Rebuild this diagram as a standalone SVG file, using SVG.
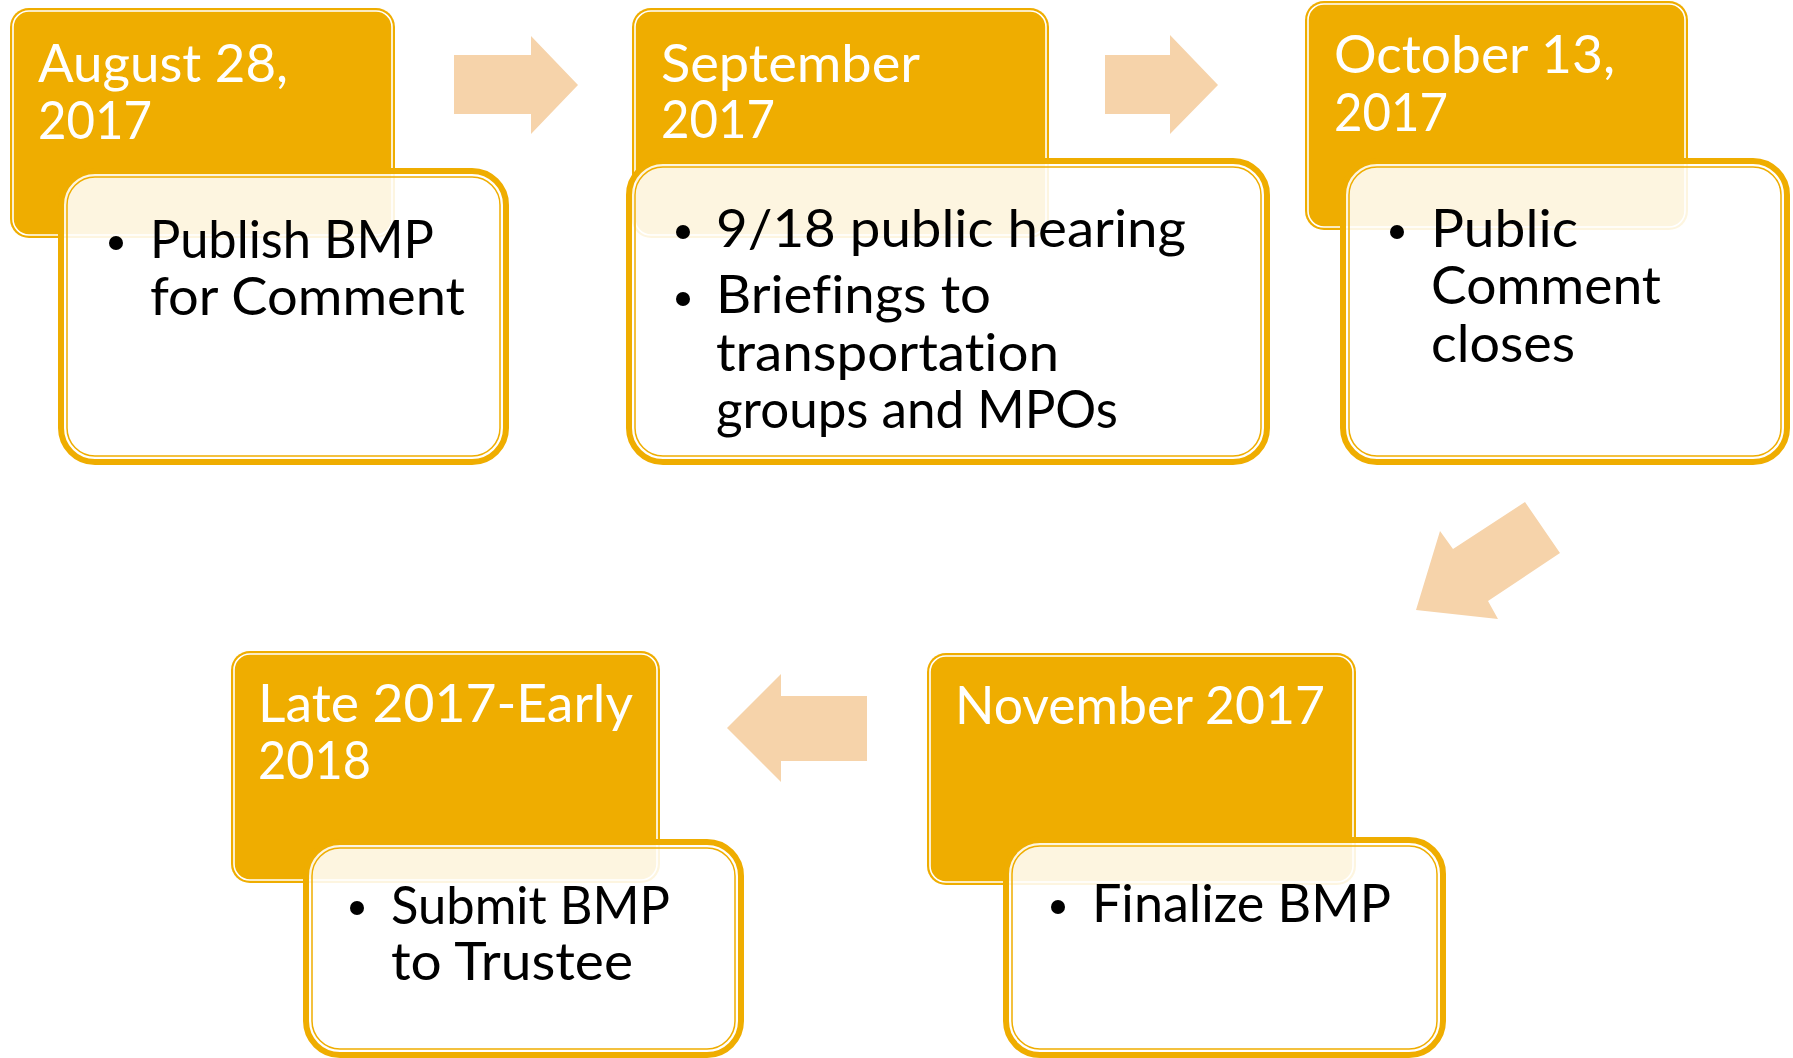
<svg xmlns="http://www.w3.org/2000/svg" width="1793" height="1058" viewBox="0 0 1793 1058">
<style>
.hdr{fill:#EFAD00}
.hdrline{fill:none;stroke:#FFFFFF;stroke-width:1.6}
.det{fill:#FFFFFF;fill-opacity:0.88;stroke:#EFAD00;stroke-width:6}
.detline{fill:none;stroke:#EFAD00;stroke-width:1.5}
.arrow{fill:#F6D3AA}
.ht{font-family:Lato,"Open Sans","DejaVu Sans",sans-serif;font-size:52px;fill:#FFFFFF;font-variant-ligatures:none;font-feature-settings:"liga" 0,"dlig" 0,"clig" 0}
.dt{font-family:Lato,"Open Sans","DejaVu Sans",sans-serif;font-size:52px;fill:#000000;font-variant-ligatures:none;font-feature-settings:"liga" 0,"dlig" 0,"clig" 0}
.bul{fill:#000000}
</style>
<rect width="1793" height="1058" fill="#FFFFFF"/>
<g id="connectors">
<polygon class="arrow" points="454,55 531,55 531,36 578,85 531,134 531,114 454,114"/>
<polygon class="arrow" points="1105,55 1170,55 1170,35 1218,85 1170,134 1170,114 1105,114"/>
<polygon class="arrow" points="1525,502 1560,553 1488,601 1498,619 1416,610 1440,531 1453,549"/>
<polygon class="arrow" points="867,696 781,696 781,674 727,728 781,782 781,761 867,761"/>
</g>
<g id="node-aug">
<rect class="hdr" x="10" y="8" width="385" height="230" rx="19"/>
<rect class="hdrline" x="13" y="11" width="379" height="224" rx="16"/>
<text class="ht" x="38" y="82" textLength="250" lengthAdjust="spacingAndGlyphs">August 28,</text>
<text class="ht" x="38" y="139" textLength="114" lengthAdjust="spacingAndGlyphs">2017</text>
<rect class="det" x="61" y="171" width="445" height="291" rx="34"/>
<rect class="detline" x="67" y="177" width="433" height="279" rx="28"/>
<circle class="bul" cx="116" cy="243" r="7"/>
<text class="dt" x="150" y="258" textLength="284" lengthAdjust="spacingAndGlyphs">Publish BMP</text>
<text class="dt" x="150" y="315" textLength="315" lengthAdjust="spacingAndGlyphs">for Comment</text>
</g>
<g id="node-sep">
<rect class="hdr" x="632" y="8" width="417" height="230" rx="19"/>
<rect class="hdrline" x="635" y="11" width="411" height="224" rx="16"/>
<text class="ht" x="661" y="82" textLength="259" lengthAdjust="spacingAndGlyphs">September</text>
<text class="ht" x="661" y="138" textLength="114" lengthAdjust="spacingAndGlyphs">2017</text>
<rect class="det" x="629" y="161" width="638" height="301" rx="34"/>
<rect class="detline" x="635" y="167" width="626" height="289" rx="28"/>
<circle class="bul" cx="683" cy="232" r="7"/>
<text class="dt" x="716" y="247" textLength="470" lengthAdjust="spacingAndGlyphs">9/18 public hearing</text>
<circle class="bul" cx="683" cy="299" r="7"/>
<text class="dt" x="716" y="313" textLength="275" lengthAdjust="spacingAndGlyphs">Briefings to</text>
<text class="dt" x="716" y="371" textLength="343" lengthAdjust="spacingAndGlyphs">transportation</text>
<text class="dt" x="716" y="428" textLength="402" lengthAdjust="spacingAndGlyphs">groups and MPOs</text>
</g>
<g id="node-oct">
<rect class="hdr" x="1305" y="1" width="383" height="229" rx="19"/>
<rect class="hdrline" x="1308" y="4" width="377" height="223" rx="16"/>
<text class="ht" x="1334" y="73" textLength="281" lengthAdjust="spacingAndGlyphs">October 13,</text>
<text class="ht" x="1334" y="131" textLength="114" lengthAdjust="spacingAndGlyphs">2017</text>
<rect class="det" x="1343" y="161" width="444" height="301" rx="34"/>
<rect class="detline" x="1349" y="167" width="432" height="289" rx="28"/>
<circle class="bul" cx="1397" cy="232" r="7"/>
<text class="dt" x="1431" y="247" textLength="147" lengthAdjust="spacingAndGlyphs">Public</text>
<text class="dt" x="1431" y="304" textLength="230" lengthAdjust="spacingAndGlyphs">Comment</text>
<text class="dt" x="1431" y="362" textLength="144" lengthAdjust="spacingAndGlyphs">closes</text>
</g>
<g id="node-nov">
<rect class="hdr" x="927" y="653" width="429" height="232" rx="19"/>
<rect class="hdrline" x="930" y="656" width="423" height="226" rx="16"/>
<text class="ht" x="955" y="724" textLength="370" lengthAdjust="spacingAndGlyphs">November 2017</text>
<rect class="det" x="1006" y="840" width="437" height="215" rx="34"/>
<rect class="detline" x="1012" y="846" width="425" height="203" rx="28"/>
<circle class="bul" cx="1058" cy="907" r="7"/>
<text class="dt" x="1092" y="922" textLength="299" lengthAdjust="spacingAndGlyphs">Finalize BMP</text>
</g>
<g id="node-late">
<rect class="hdr" x="231" y="651" width="429" height="232" rx="19"/>
<rect class="hdrline" x="234" y="654" width="423" height="226" rx="16"/>
<text class="ht" x="258" y="722" textLength="375" lengthAdjust="spacingAndGlyphs">Late 2017-Early</text>
<text class="ht" x="258" y="779" textLength="113" lengthAdjust="spacingAndGlyphs">2018</text>
<rect class="det" x="306" y="842" width="435" height="213" rx="34"/>
<rect class="detline" x="312" y="848" width="423" height="201" rx="28"/>
<circle class="bul" cx="357" cy="908" r="7"/>
<text class="dt" x="391" y="924" textLength="279" lengthAdjust="spacingAndGlyphs">Submit BMP</text>
<text class="dt" x="391" y="980" textLength="242" lengthAdjust="spacingAndGlyphs">to Trustee</text>
</g>
</svg>
